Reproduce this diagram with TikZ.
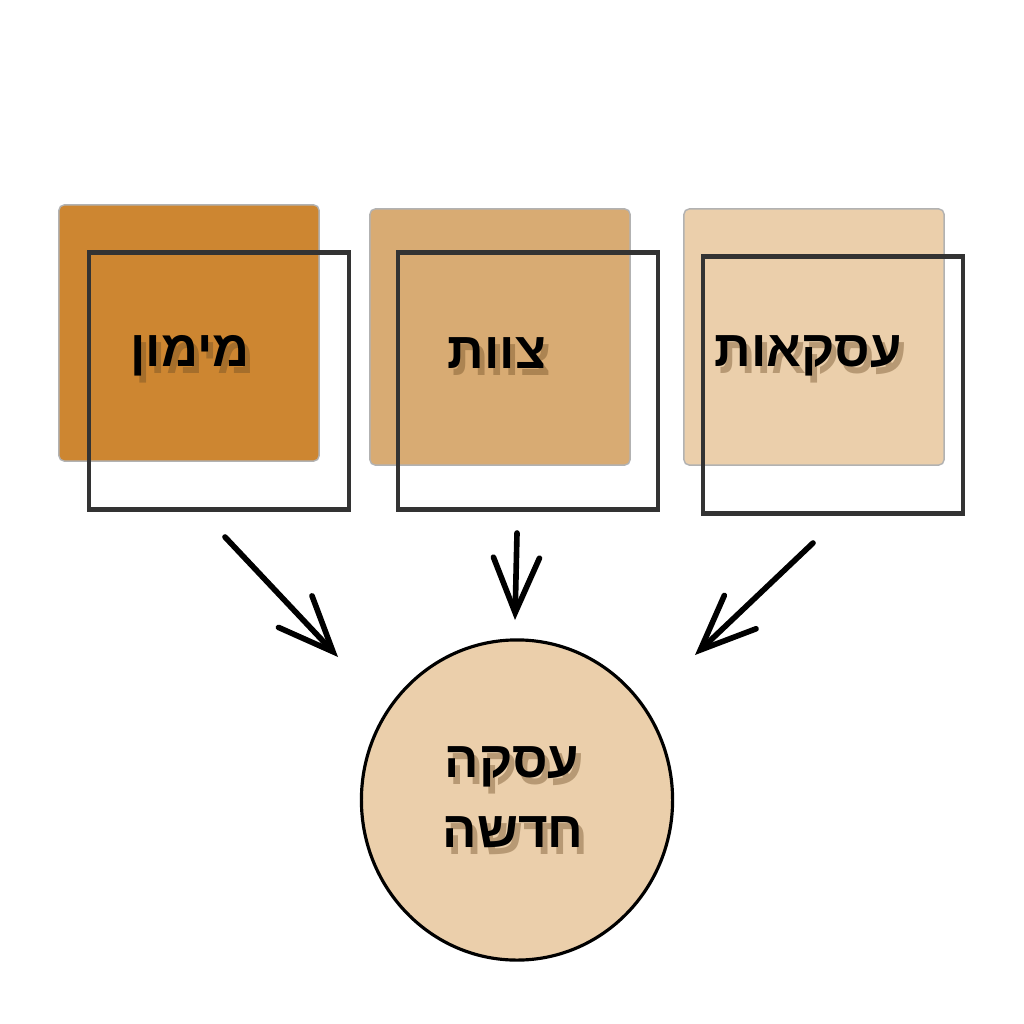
\documentclass[tikz,border=0pt]{standalone}
\usepackage{fontspec}
\newfontfamily\hebfont[Script=Hebrew]{Liberation Sans}
\TeXXeTstate=1
\usetikzlibrary{arrows.meta}
\usetikzlibrary{shapes.geometric}
\usetikzlibrary{positioning}
\definecolor{tileA}{HTML}{CD8631}
\definecolor{tileB}{HTML}{D8AB73}
\definecolor{tileC}{HTML}{EBCFAB}
\definecolor{shadow}{HTML}{6B4A22}

\begin{document}
\begin{tikzpicture}[thick,
	x=0.01cm,
	y=-0.01cm,
	tile/.style={draw=gray!60,line width=0.4pt,rounded corners=1.5pt,minimum width=2.6cm,minimum height=2.56cm},
	frame/.style={draw=black!80,line width=1.2pt,minimum width=2.6cm,minimum height=2.57cm},
	word/.style={font=\hebfont\bfseries\fontsize{14.5}{17}\selectfont,inner sep=0pt},
	shade/.style={word,text=shadow,opacity=0.4},
	into/.style={line width=1.6pt,line cap=round,-{Straight Barb[length=5.5mm,width=4.6mm,line cap=round]}}]
	\useasboundingbox (0,0) rectangle (1024,1024);

		% three squares
		\node [tile,fill=tileA,name=T1] at (189,333){};
		\node [frame,name=F1] at (219,381){};
		\node [shade,name=S1] at (195,363){\beginR מימון\endR};
		\node [word,name=L1] at (190,356){\beginR מימון\endR};

		\node [tile,fill=tileB,name=T2] at (500,337){};
		\node [frame,name=F2] at (528,381){};
		\node [shade,name=S2] at (502,360){\beginR צוות\endR};
		\node [word,name=L2] at (497,353){\beginR צוות\endR};

		\node [tile,fill=tileC,name=T3] at (814,337){};
		\node [frame,name=F3] at (833,385){};
		\node [shade,name=S3] at (813,363){\beginR עסקאות\endR};
		\node [word,name=L3] at (808,356){\beginR עסקאות\endR};

		% circle
		\node [ellipse,draw=black,line width=0.9pt,fill=tileC,minimum width=3.11cm,minimum height=3.2cm,name=C] at (517,800){};
		\node [shade,name=S4] at (517,774){\beginR עסקה\endR};
		\node [word,name=L4] at (512,767){\beginR עסקה\endR};
		\node [shade,name=S5] at (518,839){\beginR חדשה\endR};
		\node [word,name=L5] at (513,832){\beginR חדשה\endR};

		% arrows
		\coordinate (a1) at (225,537);
		\coordinate (a2) at (517,533);
		\coordinate (a3) at (813,543);
		\coordinate (b1) at (338,657);
		\coordinate (b2) at (515,620);
		\coordinate (b3) at (695,655);
		\draw [into] (a1) -- (b1);
		\draw [into] (a2) -- (b2);
		\draw [into] (a3) -- (b3);
	\end{tikzpicture}
\end{document}
